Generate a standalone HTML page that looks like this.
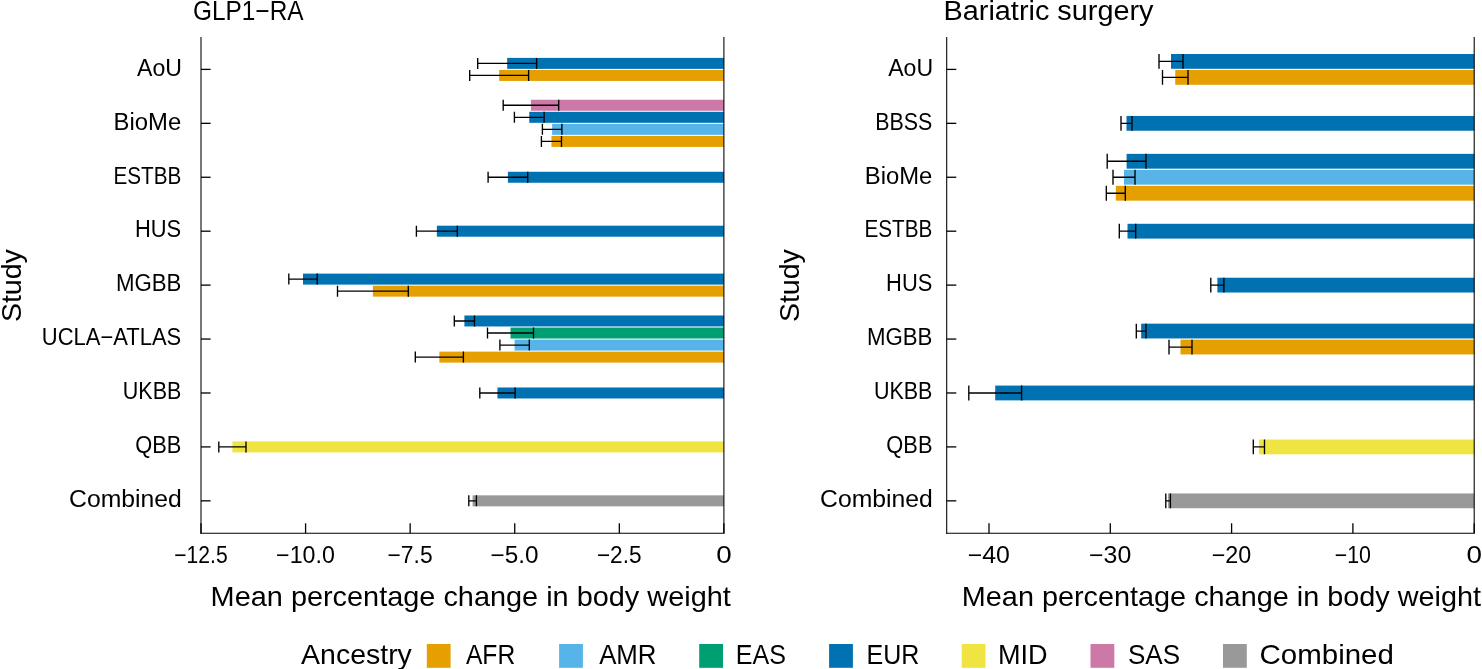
<!DOCTYPE html>
<html><head><meta charset="utf-8"><style>
html,body{margin:0;padding:0;background:#fff;}
body{width:1482px;height:669px;overflow:hidden;}
svg{display:block;will-change:transform;}
text{font-family:"Liberation Sans",sans-serif;fill:#000;}
</style></head><body>
<svg width="1482" height="669" viewBox="0 0 1482 669">
<rect width="1482" height="669" fill="#fff"/>
<rect x="507.15" y="57.88" width="216.75" height="11.00" fill="#0072B2"/>
<path d="M477.70 63.38H536.60M477.70 57.88V68.88M536.60 57.88V68.88" stroke="#000" stroke-width="1.35" fill="none"/>
<rect x="499.15" y="69.93" width="224.75" height="11.00" fill="#E69F00"/>
<path d="M469.70 75.43H528.60M469.70 69.93V80.93M528.60 69.93V80.93" stroke="#000" stroke-width="1.35" fill="none"/>
<rect x="530.95" y="99.76" width="192.95" height="11.00" fill="#CC79A7"/>
<path d="M503.20 105.26H558.70M503.20 99.76V110.76M558.70 99.76V110.76" stroke="#000" stroke-width="1.35" fill="none"/>
<rect x="529.25" y="111.81" width="194.65" height="11.00" fill="#0072B2"/>
<path d="M514.40 117.31H544.10M514.40 111.81V122.81M544.10 111.81V122.81" stroke="#000" stroke-width="1.35" fill="none"/>
<rect x="552.15" y="123.86" width="171.75" height="11.00" fill="#56B4E9"/>
<path d="M542.40 129.36H561.90M542.40 123.86V134.86M561.90 123.86V134.86" stroke="#000" stroke-width="1.35" fill="none"/>
<rect x="551.45" y="135.91" width="172.45" height="11.00" fill="#E69F00"/>
<path d="M541.40 141.41H561.50M541.40 135.91V146.91M561.50 135.91V146.91" stroke="#000" stroke-width="1.35" fill="none"/>
<rect x="507.90" y="171.76" width="216.00" height="11.00" fill="#0072B2"/>
<path d="M488.10 177.26H527.70M488.10 171.76V182.76M527.70 171.76V182.76" stroke="#000" stroke-width="1.35" fill="none"/>
<rect x="436.85" y="225.69" width="287.05" height="11.00" fill="#0072B2"/>
<path d="M416.40 231.19H457.30M416.40 225.69V236.69M457.30 225.69V236.69" stroke="#000" stroke-width="1.35" fill="none"/>
<rect x="303.00" y="273.60" width="420.90" height="11.00" fill="#0072B2"/>
<path d="M288.80 279.10H317.20M288.80 273.60V284.60M317.20 273.60V284.60" stroke="#000" stroke-width="1.35" fill="none"/>
<rect x="372.90" y="285.65" width="351.00" height="11.00" fill="#E69F00"/>
<path d="M337.50 291.15H408.30M337.50 285.65V296.65M408.30 285.65V296.65" stroke="#000" stroke-width="1.35" fill="none"/>
<rect x="464.40" y="315.47" width="259.50" height="11.00" fill="#0072B2"/>
<path d="M454.30 320.97H474.50M454.30 315.47V326.47M474.50 315.47V326.47" stroke="#000" stroke-width="1.35" fill="none"/>
<rect x="510.50" y="327.52" width="213.40" height="11.00" fill="#009E73"/>
<path d="M487.50 333.02H533.50M487.50 327.52V338.52M533.50 327.52V338.52" stroke="#000" stroke-width="1.35" fill="none"/>
<rect x="514.60" y="339.57" width="209.30" height="11.00" fill="#56B4E9"/>
<path d="M499.90 345.07H529.30M499.90 339.57V350.57M529.30 339.57V350.57" stroke="#000" stroke-width="1.35" fill="none"/>
<rect x="439.35" y="351.62" width="284.55" height="11.00" fill="#E69F00"/>
<path d="M415.30 357.12H463.40M415.30 351.62V362.62M463.40 351.62V362.62" stroke="#000" stroke-width="1.35" fill="none"/>
<rect x="497.45" y="387.48" width="226.45" height="11.00" fill="#0072B2"/>
<path d="M479.80 392.98H515.10M479.80 387.48V398.48M515.10 387.48V398.48" stroke="#000" stroke-width="1.35" fill="none"/>
<rect x="232.40" y="441.41" width="491.50" height="11.00" fill="#F0E442"/>
<path d="M218.80 446.91H246.00M218.80 441.41V452.41M246.00 441.41V452.41" stroke="#000" stroke-width="1.35" fill="none"/>
<rect x="472.60" y="495.34" width="251.30" height="11.00" fill="#999999"/>
<path d="M468.80 500.84H476.40M468.80 495.34V506.34M476.40 495.34V506.34" stroke="#000" stroke-width="1.35" fill="none"/>
<line x1="723.9" y1="37.0" x2="723.9" y2="533.3" stroke="#000" stroke-width="1.07"/>
<line x1="201.0" y1="37.0" x2="201.0" y2="533.8349999999999" stroke="#000" stroke-width="1.07"/>
<line x1="200.465" y1="533.3" x2="724.435" y2="533.3" stroke="#000" stroke-width="1.07"/>
<line x1="201.0" y1="69.40" x2="210.6" y2="69.40" stroke="#000" stroke-width="1.3"/>
<line x1="201.0" y1="123.33" x2="210.6" y2="123.33" stroke="#000" stroke-width="1.3"/>
<line x1="201.0" y1="177.26" x2="210.6" y2="177.26" stroke="#000" stroke-width="1.3"/>
<line x1="201.0" y1="231.19" x2="210.6" y2="231.19" stroke="#000" stroke-width="1.3"/>
<line x1="201.0" y1="285.12" x2="210.6" y2="285.12" stroke="#000" stroke-width="1.3"/>
<line x1="201.0" y1="339.05" x2="210.6" y2="339.05" stroke="#000" stroke-width="1.3"/>
<line x1="201.0" y1="392.98" x2="210.6" y2="392.98" stroke="#000" stroke-width="1.3"/>
<line x1="201.0" y1="446.91" x2="210.6" y2="446.91" stroke="#000" stroke-width="1.3"/>
<line x1="201.0" y1="500.84" x2="210.6" y2="500.84" stroke="#000" stroke-width="1.3"/>
<line x1="201.00" y1="533.3" x2="201.00" y2="523.3" stroke="#000" stroke-width="1.3"/>
<text x="174.22" y="563.00" font-size="23.4" textLength="53.43" lengthAdjust="spacingAndGlyphs">−12.5</text>
<line x1="305.58" y1="533.3" x2="305.58" y2="523.3" stroke="#000" stroke-width="1.3"/>
<text x="276.09" y="563.00" font-size="23.4" textLength="58.75" lengthAdjust="spacingAndGlyphs">−10.0</text>
<line x1="410.16" y1="533.3" x2="410.16" y2="523.3" stroke="#000" stroke-width="1.3"/>
<text x="387.54" y="563.00" font-size="23.4" textLength="45.08" lengthAdjust="spacingAndGlyphs">−7.5</text>
<line x1="514.74" y1="533.3" x2="514.74" y2="523.3" stroke="#000" stroke-width="1.3"/>
<text x="490.60" y="563.00" font-size="23.4" textLength="48.04" lengthAdjust="spacingAndGlyphs">−5.0</text>
<line x1="619.32" y1="533.3" x2="619.32" y2="523.3" stroke="#000" stroke-width="1.3"/>
<text x="596.91" y="563.00" font-size="23.4" textLength="44.66" lengthAdjust="spacingAndGlyphs">−2.5</text>
<line x1="723.90" y1="533.3" x2="723.90" y2="523.3" stroke="#000" stroke-width="1.3"/>
<text x="716.16" y="563.00" font-size="23.4" textLength="15.47" lengthAdjust="spacingAndGlyphs">0</text>
<text x="137.05" y="75.70" font-size="23.5" textLength="44.93" lengthAdjust="spacingAndGlyphs">AoU</text>
<text x="113.64" y="129.63" font-size="23.5" textLength="67.62" lengthAdjust="spacingAndGlyphs">BioMe</text>
<text x="113.40" y="183.56" font-size="23.5" textLength="67.89" lengthAdjust="spacingAndGlyphs">ESTBB</text>
<text x="135.01" y="237.49" font-size="23.5" textLength="46.21" lengthAdjust="spacingAndGlyphs">HUS</text>
<text x="115.88" y="291.42" font-size="23.5" textLength="65.50" lengthAdjust="spacingAndGlyphs">MGBB</text>
<text x="41.81" y="345.35" font-size="23.5" textLength="139.41" lengthAdjust="spacingAndGlyphs">UCLA−ATLAS</text>
<text x="122.85" y="399.28" font-size="23.5" textLength="58.50" lengthAdjust="spacingAndGlyphs">UKBB</text>
<text x="135.27" y="453.21" font-size="23.5" textLength="46.08" lengthAdjust="spacingAndGlyphs">QBB</text>
<text x="69.04" y="507.14" font-size="23.5" textLength="112.75" lengthAdjust="spacingAndGlyphs">Combined</text>
<text x="193.08" y="19.80" font-size="27" textLength="110.48" lengthAdjust="spacingAndGlyphs">GLP1−RA</text>
<text transform="translate(21.10,320.80) rotate(-90)" x="-1.31" y="0" font-size="28" textLength="72.97" lengthAdjust="spacingAndGlyphs">Study</text>
<rect x="1171.00" y="54.00" width="303.20" height="14.80" fill="#0072B2"/>
<path d="M1159.00 61.40H1183.00M1159.00 54.00V68.80M1183.00 54.00V68.80" stroke="#000" stroke-width="1.35" fill="none"/>
<rect x="1175.25" y="70.00" width="298.95" height="14.80" fill="#E69F00"/>
<path d="M1162.50 77.40H1188.00M1162.50 70.00V84.80M1188.00 70.00V84.80" stroke="#000" stroke-width="1.35" fill="none"/>
<rect x="1126.50" y="115.93" width="347.70" height="14.80" fill="#0072B2"/>
<path d="M1121.00 123.33H1132.00M1121.00 115.93V130.73M1132.00 115.93V130.73" stroke="#000" stroke-width="1.35" fill="none"/>
<rect x="1126.60" y="153.86" width="347.60" height="14.80" fill="#0072B2"/>
<path d="M1107.20 161.26H1146.00M1107.20 153.86V168.66M1146.00 153.86V168.66" stroke="#000" stroke-width="1.35" fill="none"/>
<rect x="1124.00" y="169.86" width="350.20" height="14.80" fill="#56B4E9"/>
<path d="M1113.00 177.26H1135.00M1113.00 169.86V184.66M1135.00 169.86V184.66" stroke="#000" stroke-width="1.35" fill="none"/>
<rect x="1115.80" y="185.86" width="358.40" height="14.80" fill="#E69F00"/>
<path d="M1106.30 193.26H1125.30M1106.30 185.86V200.66M1125.30 185.86V200.66" stroke="#000" stroke-width="1.35" fill="none"/>
<rect x="1127.50" y="223.79" width="346.70" height="14.80" fill="#0072B2"/>
<path d="M1119.30 231.19H1135.70M1119.30 223.79V238.59M1135.70 223.79V238.59" stroke="#000" stroke-width="1.35" fill="none"/>
<rect x="1217.35" y="277.72" width="256.85" height="14.80" fill="#0072B2"/>
<path d="M1210.80 285.12H1223.90M1210.80 277.72V292.52M1223.90 277.72V292.52" stroke="#000" stroke-width="1.35" fill="none"/>
<rect x="1141.15" y="323.65" width="333.05" height="14.80" fill="#0072B2"/>
<path d="M1136.30 331.05H1146.00M1136.30 323.65V338.45M1146.00 323.65V338.45" stroke="#000" stroke-width="1.35" fill="none"/>
<rect x="1180.50" y="339.65" width="293.70" height="14.80" fill="#E69F00"/>
<path d="M1169.00 347.05H1192.00M1169.00 339.65V354.45M1192.00 339.65V354.45" stroke="#000" stroke-width="1.35" fill="none"/>
<rect x="995.20" y="385.58" width="479.00" height="14.80" fill="#0072B2"/>
<path d="M968.80 392.98H1021.60M968.80 385.58V400.38M1021.60 385.58V400.38" stroke="#000" stroke-width="1.35" fill="none"/>
<rect x="1258.90" y="439.51" width="215.30" height="14.80" fill="#F0E442"/>
<path d="M1253.30 446.91H1264.50M1253.30 439.51V454.31M1264.50 439.51V454.31" stroke="#000" stroke-width="1.35" fill="none"/>
<rect x="1168.10" y="493.44" width="306.10" height="14.80" fill="#999999"/>
<path d="M1165.80 500.84H1170.40M1165.80 493.44V508.24M1170.40 493.44V508.24" stroke="#000" stroke-width="1.35" fill="none"/>
<line x1="1474.2" y1="37.0" x2="1474.2" y2="533.3" stroke="#000" stroke-width="1.07"/>
<line x1="946.7" y1="37.0" x2="946.7" y2="533.8349999999999" stroke="#000" stroke-width="1.07"/>
<line x1="946.1650000000001" y1="533.3" x2="1474.7350000000001" y2="533.3" stroke="#000" stroke-width="1.07"/>
<line x1="946.7" y1="69.40" x2="956.3000000000001" y2="69.40" stroke="#000" stroke-width="1.3"/>
<line x1="946.7" y1="123.33" x2="956.3000000000001" y2="123.33" stroke="#000" stroke-width="1.3"/>
<line x1="946.7" y1="177.26" x2="956.3000000000001" y2="177.26" stroke="#000" stroke-width="1.3"/>
<line x1="946.7" y1="231.19" x2="956.3000000000001" y2="231.19" stroke="#000" stroke-width="1.3"/>
<line x1="946.7" y1="285.12" x2="956.3000000000001" y2="285.12" stroke="#000" stroke-width="1.3"/>
<line x1="946.7" y1="339.05" x2="956.3000000000001" y2="339.05" stroke="#000" stroke-width="1.3"/>
<line x1="946.7" y1="392.98" x2="956.3000000000001" y2="392.98" stroke="#000" stroke-width="1.3"/>
<line x1="946.7" y1="446.91" x2="956.3000000000001" y2="446.91" stroke="#000" stroke-width="1.3"/>
<line x1="946.7" y1="500.84" x2="956.3000000000001" y2="500.84" stroke="#000" stroke-width="1.3"/>
<line x1="989.00" y1="533.3" x2="989.00" y2="523.3" stroke="#000" stroke-width="1.3"/>
<text x="967.78" y="563.00" font-size="23.4" textLength="42.20" lengthAdjust="spacingAndGlyphs">−40</text>
<line x1="1110.30" y1="533.3" x2="1110.30" y2="523.3" stroke="#000" stroke-width="1.3"/>
<text x="1089.08" y="563.00" font-size="23.4" textLength="42.20" lengthAdjust="spacingAndGlyphs">−30</text>
<line x1="1231.60" y1="533.3" x2="1231.60" y2="523.3" stroke="#000" stroke-width="1.3"/>
<text x="1211.71" y="563.00" font-size="23.4" textLength="39.56" lengthAdjust="spacingAndGlyphs">−20</text>
<line x1="1352.90" y1="533.3" x2="1352.90" y2="523.3" stroke="#000" stroke-width="1.3"/>
<text x="1334.65" y="563.00" font-size="23.4" textLength="36.29" lengthAdjust="spacingAndGlyphs">−10</text>
<line x1="1474.20" y1="533.3" x2="1474.20" y2="523.3" stroke="#000" stroke-width="1.3"/>
<text x="1466.46" y="563.00" font-size="23.4" textLength="15.47" lengthAdjust="spacingAndGlyphs">0</text>
<text x="888.15" y="75.70" font-size="23.5" textLength="44.93" lengthAdjust="spacingAndGlyphs">AoU</text>
<text x="875.25" y="129.63" font-size="23.5" textLength="57.04" lengthAdjust="spacingAndGlyphs">BBSS</text>
<text x="864.74" y="183.56" font-size="23.5" textLength="67.62" lengthAdjust="spacingAndGlyphs">BioMe</text>
<text x="864.50" y="237.49" font-size="23.5" textLength="67.89" lengthAdjust="spacingAndGlyphs">ESTBB</text>
<text x="886.11" y="291.42" font-size="23.5" textLength="46.21" lengthAdjust="spacingAndGlyphs">HUS</text>
<text x="866.98" y="345.35" font-size="23.5" textLength="65.50" lengthAdjust="spacingAndGlyphs">MGBB</text>
<text x="873.95" y="399.28" font-size="23.5" textLength="58.50" lengthAdjust="spacingAndGlyphs">UKBB</text>
<text x="886.37" y="453.21" font-size="23.5" textLength="46.08" lengthAdjust="spacingAndGlyphs">QBB</text>
<text x="820.14" y="507.14" font-size="23.5" textLength="112.75" lengthAdjust="spacingAndGlyphs">Combined</text>
<text x="943.53" y="19.80" font-size="27" textLength="210.02" lengthAdjust="spacingAndGlyphs">Bariatric surgery</text>
<text transform="translate(799.40,320.80) rotate(-90)" x="-1.31" y="0" font-size="28" textLength="72.97" lengthAdjust="spacingAndGlyphs">Study</text>
<text x="210.63" y="605.90" font-size="28" textLength="520.16" lengthAdjust="spacingAndGlyphs">Mean percentage change in body weight</text>
<text x="961.84" y="605.90" font-size="28" textLength="519.16" lengthAdjust="spacingAndGlyphs">Mean percentage change in body weight</text>
<text x="301.14" y="664.00" font-size="28" textLength="110.72" lengthAdjust="spacingAndGlyphs">Ancestry</text>
<rect x="426.8" y="644" width="23.8" height="23.8" fill="#E69F00"/>
<text x="465.95" y="664.00" font-size="28" textLength="49.21" lengthAdjust="spacingAndGlyphs">AFR</text>
<rect x="559.1" y="644" width="23.8" height="23.8" fill="#56B4E9"/>
<text x="599.15" y="664.00" font-size="28" textLength="57.37" lengthAdjust="spacingAndGlyphs">AMR</text>
<rect x="699.2" y="644" width="23.8" height="23.8" fill="#009E73"/>
<text x="735.85" y="664.00" font-size="28" textLength="50.11" lengthAdjust="spacingAndGlyphs">EAS</text>
<rect x="829.1" y="644" width="23.8" height="23.8" fill="#0072B2"/>
<text x="866.55" y="664.00" font-size="28" textLength="52.84" lengthAdjust="spacingAndGlyphs">EUR</text>
<rect x="961.7" y="644" width="23.8" height="23.8" fill="#F0E442"/>
<text x="997.98" y="664.00" font-size="28" textLength="49.62" lengthAdjust="spacingAndGlyphs">MID</text>
<rect x="1090.5" y="644" width="23.8" height="23.8" fill="#CC79A7"/>
<text x="1128.00" y="664.00" font-size="28" textLength="52.10" lengthAdjust="spacingAndGlyphs">SAS</text>
<rect x="1223.0" y="644" width="23.8" height="23.8" fill="#999999"/>
<text x="1259.50" y="664.00" font-size="28" textLength="134.39" lengthAdjust="spacingAndGlyphs">Combined</text>
</svg>
</body></html>
